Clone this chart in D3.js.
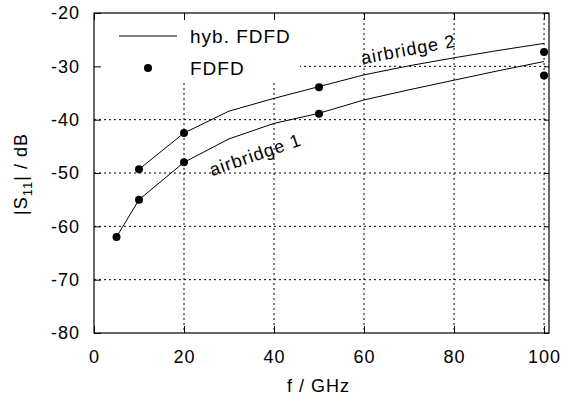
<!DOCTYPE html>
<html>
<head>
<meta charset="utf-8">
<script src="https://cdn.jsdelivr.net/npm/d3@7"></script>
<style>
  body { margin: 0; background: #fff; }
  svg text { font-family: "Liberation Sans", Arial, sans-serif; fill: #000; letter-spacing: 1px; }
  .axis path { display: none; }
  .axis line { stroke: #000; }
  .grid line { stroke: #000; stroke-dasharray: 2,3; stroke-width: 1; }
</style>
</head>
<body>
<div id="chart"></div>
<script>
// hybrid FDFD curves (frequency in GHz, |S11| in dB)
var hybFreq1 = [5, 10, 20, 30, 40, 50, 60, 70, 80, 90, 100];
var hybS11_1 = [-62, -55, -48, -43.6, -40.7, -38.8, -36.3, -34.4, -32.6, -30.8, -29.1];
var hybFreq2 = [10, 20, 30, 40, 50, 60, 70, 80, 90, 100];
var hybS11_2 = [-49.3, -42.5, -38.4, -36, -33.8, -31.6, -29.9, -28.4, -27, -25.7];

// FDFD reference points
var fdfdFreq1 = [5, 10, 20, 50, 100];
var fdfdS11_1 = [-62, -55, -48, -38.9, -31.7];
var fdfdFreq2 = [10, 20, 50, 100];
var fdfdS11_2 = [-49.3, -42.5, -33.9, -27.3];

var xTicks = [0, 20, 40, 60, 80, 100];
var yTicks = [-80, -70, -60, -50, -40, -30, -20];

var W = 561, H = 400;
var padl = 94, padr = 12, padt = 13, padb = 67;
var w = W - padl - padr, h = H - padt - padb;

var svg = d3.select('#chart').append('svg').attr('width', W).attr('height', H);
var vis = svg.append('g').attr('transform', 'translate(' + padl + ',' + padt + ')');

var x = d3.scaleLinear().domain([0, 101.1]).range([0, w]);
var y = d3.scaleLinear().domain([-80, -20]).range([h, 0]);
var plain = function(d) { return String(d); };  // keep ASCII hyphen as minus

// grid
vis.append('g').attr('class', 'grid').selectAll('line').data(xTicks.slice(1)).enter()
  .append('line').attr('x1', x).attr('x2', x).attr('y1', 0).attr('y2', h);
vis.append('g').attr('class', 'grid').selectAll('line').data(yTicks.slice(1, -1)).enter()
  .append('line').attr('x1', 0).attr('x2', w).attr('y1', y).attr('y2', y);

// legend backdrop hides grid behind it
vis.append('rect').attr('x', 0).attr('y', 0).attr('width', 206).attr('height', 69).attr('fill', '#fff');

// axes with inward ticks
vis.append('g').attr('class', 'x axis').attr('transform', 'translate(0,' + h + ')')
  .call(d3.axisBottom(x).tickValues(xTicks).tickSize(-7).tickPadding(17).tickFormat(plain))
  .selectAll('text').style('font-size', '18px');
vis.append('g').attr('class', 'y axis')
  .call(d3.axisLeft(y).tickValues(yTicks).tickSize(-7).tickPadding(14).tickFormat(plain))
  .selectAll('text').style('font-size', '18px');
vis.append('g').attr('class', 'axis')
  .call(d3.axisTop(x).tickValues(xTicks).tickSize(-7).tickFormat(''));
vis.append('g').attr('class', 'axis').attr('transform', 'translate(' + w + ',0)')
  .call(d3.axisRight(y).tickValues(yTicks).tickSize(-5).tickFormat(''));

vis.append('rect').attr('width', w).attr('height', h)
  .attr('fill', 'none').attr('stroke', '#000').attr('stroke-width', 1.2);

var line = d3.line().x(function(d) { return x(d[0]); }).y(function(d) { return y(d[1]); });

[[hybFreq1, hybS11_1], [hybFreq2, hybS11_2]].forEach(function(s) {
  var pts = s[0].map(function(f, i) { return [f, s[1][i]]; });
  vis.append('path').attr('d', line(pts)).attr('fill', 'none').attr('stroke', '#000').attr('stroke-width', 1);
});

[[fdfdFreq1, fdfdS11_1], [fdfdFreq2, fdfdS11_2]].forEach(function(s) {
  vis.append('g').selectAll('circle').data(s[0]).enter().append('circle')
    .attr('cx', function(d) { return x(d); })
    .attr('cy', function(d, i) { return y(s[1][i]); })
    .attr('r', 4).attr('fill', '#000');
});

// curve labels
vis.append('text').attr('transform', 'translate(' + x(26.2) + ',' + y(-50.6) + ') rotate(-19)')
  .style('font-size', '18px').text('airbridge 1');
vis.append('text').attr('transform', 'translate(' + x(59.6) + ',' + y(-29.6) + ') rotate(-10.5)')
  .style('font-size', '18px').text('airbridge 2');

// legend
vis.append('line').attr('x1', 25).attr('x2', 83).attr('y1', 23).attr('y2', 23)
  .attr('stroke', '#000').attr('stroke-width', 1);
vis.append('text').attr('x', 96).attr('y', 30).style('font-size', '19px').text('hyb. FDFD');
vis.append('circle').attr('cx', 54).attr('cy', 55).attr('r', 4).attr('fill', '#000');
vis.append('text').attr('x', 96).attr('y', 62).style('font-size', '19px').text('FDFD');

// axis titles
svg.append('text').attr('x', padl + w / 2 - 3).attr('y', 392).attr('text-anchor', 'middle')
  .style('font-size', '18px').text('f / GHz');
var yl = svg.append('text').attr('transform', 'translate(27,174) rotate(-90)')
  .attr('text-anchor', 'middle').style('font-size', '18px');
yl.append('tspan').text('|S');
yl.append('tspan').attr('dy', 5).style('font-size', '13px').text('11');
yl.append('tspan').attr('dy', -5).text('| / dB');
</script>
</body>
</html>
